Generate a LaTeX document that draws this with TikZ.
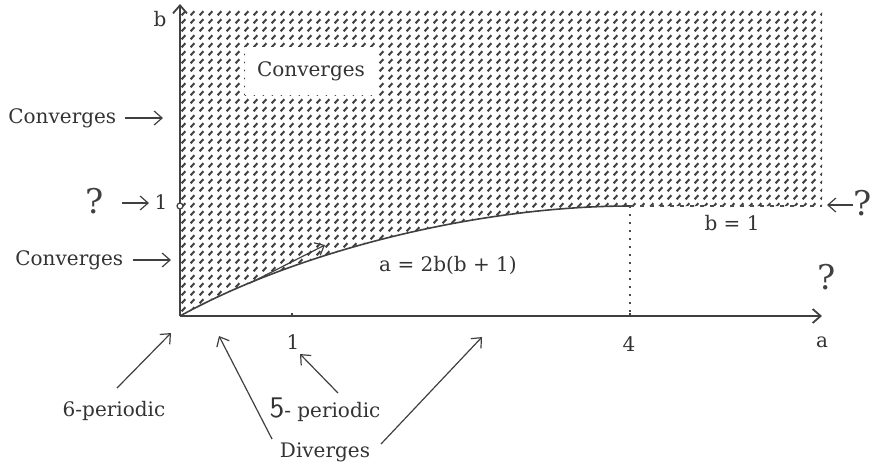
\documentclass[tikz,border=0pt]{standalone}
\usepackage{fontspec}
\setmainfont{DejaVu Serif}
\usetikzlibrary{arrows.meta,patterns}
\pgfdeclarepatternformonly{dashhatch}{\pgfpointorigin}{\pgfqpoint{4.5pt}{4.2pt}}{\pgfqpoint{4.5pt}{4.2pt}}{%
  \pgfsetlinewidth{1.1pt}%
  \pgfpathmoveto{\pgfqpoint{0.9pt}{0.9pt}}%
  \pgfpathlineto{\pgfqpoint{3.0pt}{3.1pt}}%
  \pgfusepath{stroke}}
\begin{document}
\begin{tikzpicture}[x=0.5pt,y=-0.5pt,
  axis/.style={line width=0.9pt, draw=black!75},
  curveline/.style={line width=0.8pt, draw=black!75},
  pointer/.style={line width=0.6pt, draw=black!75, -{Straight Barb[length=4pt,width=7pt,line width=0.6pt]}},
  lbl/.style={font=\fontsize{10}{12}\selectfont, text=black!80, inner sep=0pt},
  big/.style={font=\fontsize{17}{20}\selectfont, text=black!75, inner sep=0pt}]
\useasboundingbox (0,0) rectangle (872,463);
% key points
\coordinate (O) at (180,316);
\coordinate (ytop) at (180,4);
\coordinate (xend) at (822,316);
\coordinate (P4) at (630,206);
\coordinate (R1) at (822,206);
\coordinate (A4) at (630,316);
\coordinate (A1) at (292,316);
\coordinate (B1) at (180,206);
% hatched region
\fill[pattern=dashhatch, pattern color=black!75]
  (180,8) -- (822,8) -- (R1) -- (P4) .. controls (480,206) and (300,250) .. (O) -- cycle;
% white box label
\node[lbl, fill=white, inner xsep=6pt, inner ysep=7pt] (conv) at (311,71) {Converges};
% axes
\draw[axis, -{Straight Barb[length=4pt,width=7pt,line width=0.9pt]}] (O) -- (ytop);
\draw[axis, -{Straight Barb[length=4pt,width=7pt,line width=0.9pt]}] (O) -- (xend);
\draw[axis] (A1) -- ++(0,-3);
\draw[axis] (A4) -- ++(0,-3);
% curve and lines
\draw[curveline] (O) .. controls (300,250) and (480,206) .. (P4);
\draw[line width=0.8pt, draw=black!70, dash pattern=on 2pt off 3pt] (P4) -- (R1);
\draw[line width=0.9pt, draw=black!70, dash pattern=on 0.8pt off 3.2pt] (P4) -- (A4);
\node[circle, draw=black!75, fill=white, line width=0.6pt, minimum size=3pt, inner sep=0pt] (circ) at (B1) {};
% small tangent arrow
\coordinate (tanS) at (250,283);
\coordinate (tanE) at (325,245);
\draw[pointer] (tanS) -- (tanE);
% axis labels
\node[lbl] (blab) at (160,19) {b};
\node[lbl] (alab) at (822,342) {a};
\node[lbl] (one) at (293,342) {1};
\node[lbl] (four) at (629,344) {4};
\node[lbl] (oneb) at (161,202) {1};
% left labels
\node[lbl, anchor=west] (convU) at (8,118) {Converges};
\coordinate (convUt) at (163,118);
\draw[pointer] (convU.east) ++(8,0) -- (convUt);
\node[lbl, anchor=west] (convL) at (15,260) {Converges};
\coordinate (convLt) at (171,260);
\draw[pointer] (convL.east) ++(9,0) -- (convLt);
\node[big] (qL) at (95,201) {?};
\coordinate (qLs) at (122,203);
\coordinate (qLt) at (149,203);
\draw[pointer] (qLs) -- (qLt);
% right labels
\node[big] (qR) at (863,203) {?};
\coordinate (qRs) at (853,205);
\coordinate (qRt) at (827,205);
\draw[pointer] (qRs) -- (qRt);
\node[lbl] (bone) at (732,223) {b = 1};
\node[big] (qLR) at (827,277) {?};
\node[lbl] (eq) at (448,265) {a = 2b(b + 1)};
% bottom labels
\node[lbl] (six) at (114,411) {6-periodic};
\coordinate (sixS) at (117,388);
\coordinate (sixT) at (171,333);
\draw[pointer] (sixS) -- (sixT);
\node[lbl] (five) at (325,410) {{\fontsize{15}{18}\selectfont\sffamily 5}- periodic};
\coordinate (fiveS) at (338,393);
\coordinate (fiveT) at (300,354);
\draw[pointer] (fiveS) -- (fiveT);
\node[lbl] (div) at (325,452) {Diverges};
\coordinate (divS1) at (272,439);
\coordinate (divT1) at (219,336);
\coordinate (divS2) at (381,444);
\coordinate (divT2) at (482,337);
\draw[pointer] (divS1) -- (divT1);
\draw[pointer] (divS2) -- (divT2);
\end{tikzpicture}
\end{document}
